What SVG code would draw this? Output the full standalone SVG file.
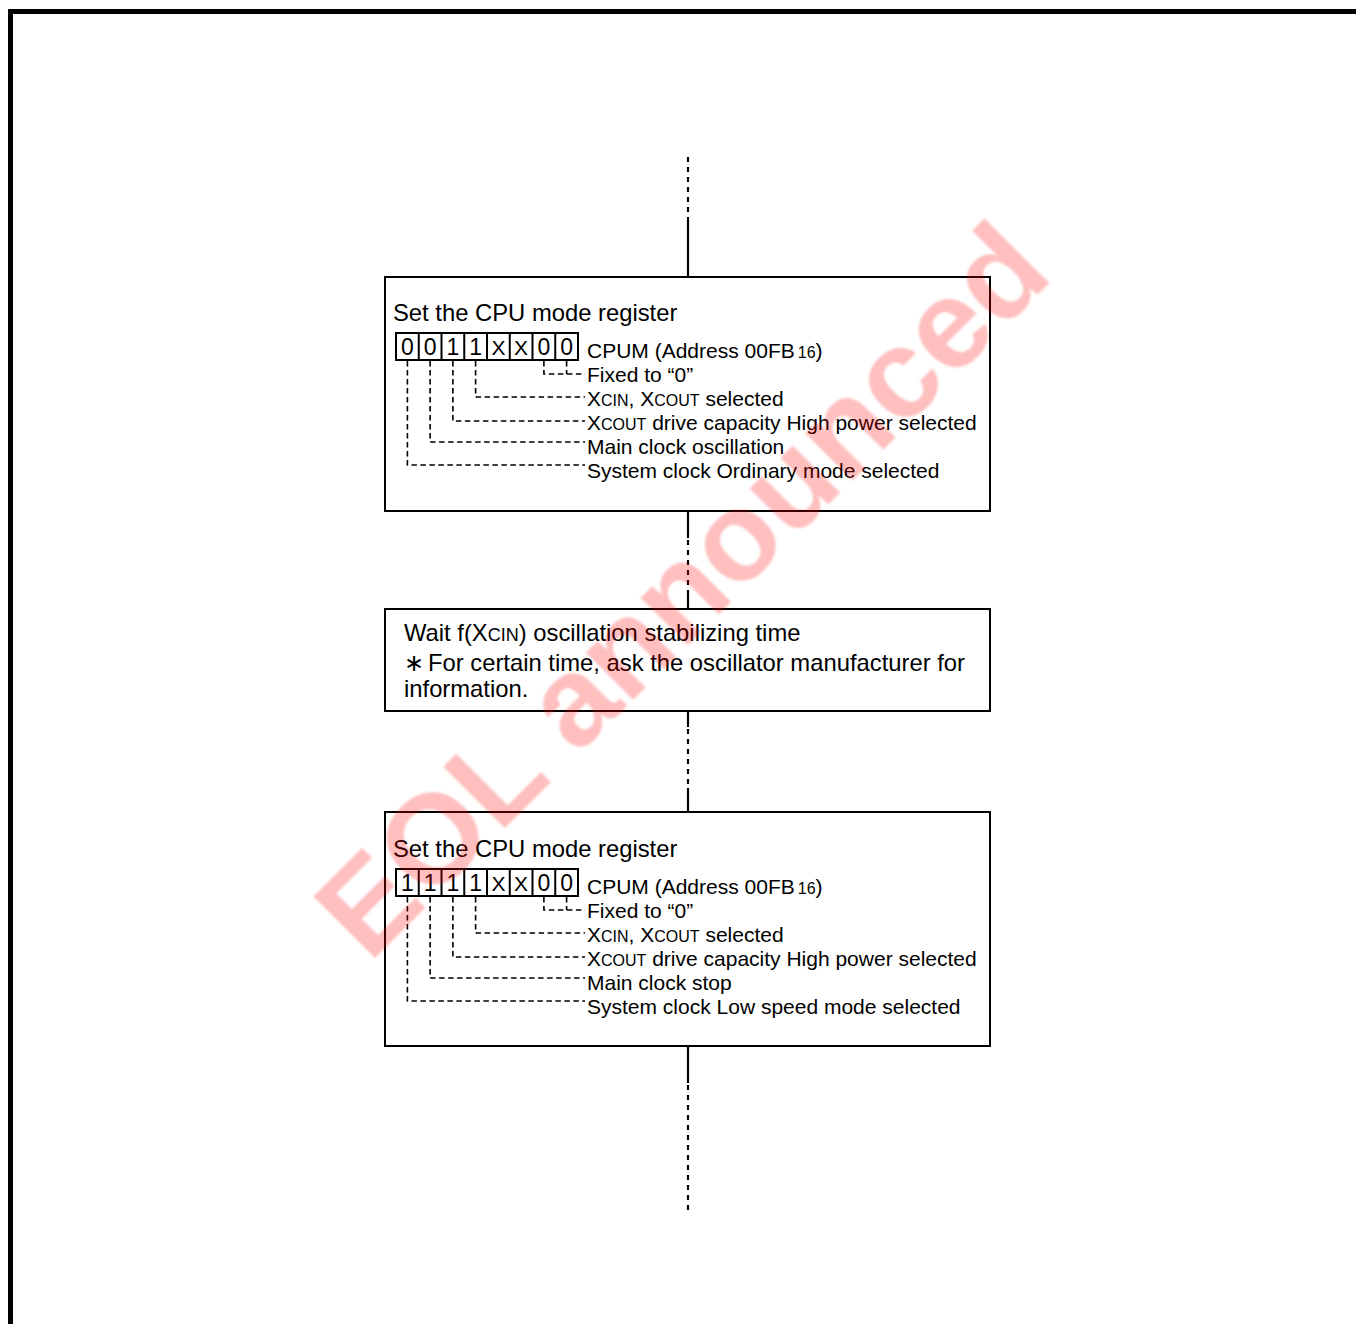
<svg xmlns="http://www.w3.org/2000/svg" width="1356" height="1324" viewBox="0 0 1356 1324">
<defs>
<style>
text{font-family:"Liberation Sans",Arial,Helvetica,sans-serif;fill:#000}
.ttl{font-size:23.8px}
.lbl{font-size:21px}
.sc{font-size:16px}
.sc2{font-size:18px}
.bit{font-size:23px;text-anchor:middle}
.bx{font-size:21px;text-anchor:middle}
.box{fill:#fff;stroke:#000;stroke-width:2}
.cell{fill:none;stroke:#000;stroke-width:2}
.lead{fill:none;stroke:#000;stroke-width:1.6;stroke-dasharray:5.5 3.5}
.solid{fill:none;stroke:#000;stroke-width:2.2}
.dash{fill:none;stroke:#000;stroke-width:2.2;stroke-dasharray:5 5}
.wm{font-family:"Liberation Sans",Arial,sans-serif;font-weight:bold;font-size:127px;fill:#ff0000;fill-opacity:0.25}
</style>
<filter id="soft" x="-10%" y="-10%" width="120%" height="120%"><feGaussianBlur stdDeviation="1.3"/></filter>
</defs>
<rect x="0" y="0" width="1356" height="1324" fill="#fff"/>
<path d="M10.5 1324 V11.5 H1356" fill="none" stroke="#000" stroke-width="5"/>

<g id="connectors">
<path class="dash" d="M688 157 V218"/>
<path class="solid" d="M688 218 V277"/>
<path class="solid" d="M688 511 V538"/>
<path class="dash" d="M688 540 V588"/>
<path class="solid" d="M688 590 V609"/>
<path class="solid" d="M688 711 V727"/>
<path class="dash" d="M688 729 V786"/>
<path class="solid" d="M688 788 V812"/>
<path class="solid" d="M688 1046 V1083"/>
<path class="dash" d="M688 1085 V1210"/>
</g>

<g id="node-set-cpum-1">
<rect class="box" x="385" y="277" width="605" height="234"/>
<text class="ttl" x="393" y="321">Set the CPU mode register</text>
<rect class="cell" x="396" y="333" width="182" height="27"/>
<path class="cell" d="M418.75 333 V360 M441.5 333 V360 M464.25 333 V360 M487 333 V360 M509.75 333 V360 M532.5 333 V360 M555.25 333 V360"/>
<text class="bit" x="407.4" y="355">0</text>
<text class="bit" x="430.1" y="355">0</text>
<text class="bit" x="452.9" y="355">1</text>
<text class="bit" x="475.6" y="355">1</text>
<text class="bx" x="498.4" y="355">X</text>
<text class="bx" x="521.1" y="355">X</text>
<text class="bit" x="543.9" y="355">0</text>
<text class="bit" x="566.6" y="355">0</text>
<path class="lead" d="M407.4 361 V465 H585"/>
<path class="lead" d="M430.1 361 V442 H585"/>
<path class="lead" d="M452.9 361 V421 H585"/>
<path class="lead" d="M475.6 361 V397 H585"/>
<path class="lead" d="M543.9 361 V374 H585"/>
<path class="lead" d="M566.6 361 V374"/>
<text class="lbl" x="587" y="358">CPUM (Address 00FB<tspan class="sc" dx="3">16</tspan>)</text>
<text class="lbl" x="587" y="382">Fixed to “0”</text>
<text class="lbl" x="587" y="406">X<tspan class="sc">CIN</tspan>, X<tspan class="sc">COUT</tspan> selected</text>
<text class="lbl" x="587" y="430">X<tspan class="sc">COUT</tspan> drive capacity High power selected</text>
<text class="lbl" x="587" y="454">Main clock oscillation</text>
<text class="lbl" x="587" y="478">System clock Ordinary mode selected</text>
</g>

<g id="node-wait">
<rect class="box" x="385" y="609" width="605" height="102"/>
<text class="ttl" x="404" y="641">Wait f(X<tspan class="sc2">CIN</tspan>) oscillation stabilizing time</text>
<text class="ttl" x="404" y="671">∗<tspan x="428">For certain time, ask the oscillator manufacturer for</tspan></text>
<text class="ttl" x="404" y="697">information.</text>
</g>

<g id="node-set-cpum-2">
<rect class="box" x="385" y="812" width="605" height="234"/>
<g transform="translate(0,536)">
<text class="ttl" x="393" y="321">Set the CPU mode register</text>
<rect class="cell" x="396" y="333" width="182" height="27"/>
<path class="cell" d="M418.75 333 V360 M441.5 333 V360 M464.25 333 V360 M487 333 V360 M509.75 333 V360 M532.5 333 V360 M555.25 333 V360"/>
<text class="bit" x="407.4" y="355">1</text>
<text class="bit" x="430.1" y="355">1</text>
<text class="bit" x="452.9" y="355">1</text>
<text class="bit" x="475.6" y="355">1</text>
<text class="bx" x="498.4" y="355">X</text>
<text class="bx" x="521.1" y="355">X</text>
<text class="bit" x="543.9" y="355">0</text>
<text class="bit" x="566.6" y="355">0</text>
<path class="lead" d="M407.4 361 V465 H585"/>
<path class="lead" d="M430.1 361 V442 H585"/>
<path class="lead" d="M452.9 361 V421 H585"/>
<path class="lead" d="M475.6 361 V397 H585"/>
<path class="lead" d="M543.9 361 V374 H585"/>
<path class="lead" d="M566.6 361 V374"/>
<text class="lbl" x="587" y="358">CPUM (Address 00FB<tspan class="sc" dx="3">16</tspan>)</text>
<text class="lbl" x="587" y="382">Fixed to “0”</text>
<text class="lbl" x="587" y="406">X<tspan class="sc">CIN</tspan>, X<tspan class="sc">COUT</tspan> selected</text>
<text class="lbl" x="587" y="430">X<tspan class="sc">COUT</tspan> drive capacity High power selected</text>
<text class="lbl" x="587" y="454">Main clock stop</text>
<text class="lbl" x="587" y="478">System clock Low speed mode selected</text>
</g>
</g>

<text class="wm" x="369" y="964" transform="rotate(-45 369 964)" filter="url(#soft)">EOL announced</text>
</svg>
